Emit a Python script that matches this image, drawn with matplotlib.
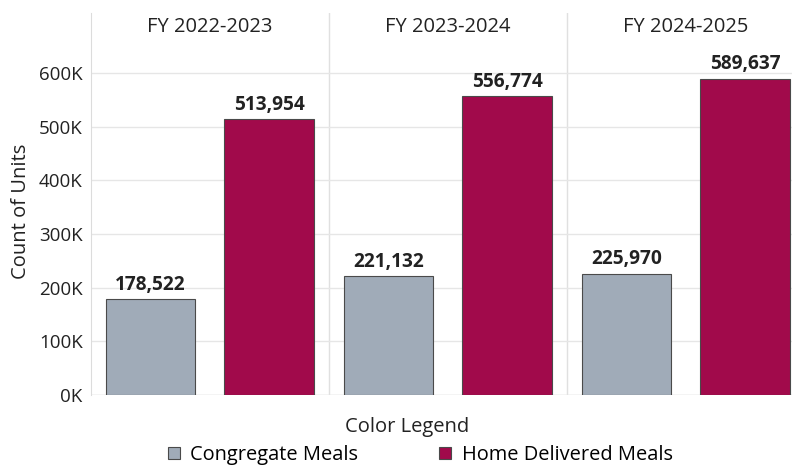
import matplotlib
matplotlib.use("Agg")
import matplotlib.pyplot as plt
from matplotlib.ticker import FuncFormatter
from matplotlib.patches import Patch

plt.rcParams['font.family'] = ['Open Sans', 'DejaVu Sans']

periods = ["FY 2022-2023", "FY 2023-2024", "FY 2024-2025"]
series = ["Congregate Meals", "Home Delivered Meals"]
congregate = [178522, 221132, 225970]
home_delivered = [513954, 556774, 589637]
colors = ["#A0ABB8", "#A10A4B"]
yticks = [0, 100000, 200000, 300000, 400000, 500000, 600000]

fig = plt.figure(figsize=(7.92, 4.67), dpi=100)
ax = fig.add_axes([91/792, 1 - 395/467, 714/792, 382/467])

offsets = [0.25, 0.748]
width = 0.375
for s, (vals, col, off) in enumerate(zip([congregate, home_delivered], colors, offsets)):
    xs = [i + off for i in range(len(periods))]
    ax.bar(xs, vals, width=width, color=col, edgecolor="#4a4a4a",
           linewidth=0.8, zorder=3, label=series[s])
    for x, v in zip(xs, vals):
        ax.text(x, v + 8000, f"{v:,}", ha="center", va="bottom",
                fontsize=13.8, fontweight="bold", color="#222222", zorder=4)

ax.set_xlim(0, 3)
ax.set_ylim(0, 712000)
ax.set_yticks(yticks)
ax.yaxis.set_major_formatter(FuncFormatter(lambda v, p: f"{int(v/1000)}K"))
ax.tick_params(axis="y", length=0, labelsize=13.5, colors="#222222", pad=6)
ax.set_xticks([])
ax.grid(axis="y", color="#e6e6e6", linewidth=1, zorder=0)
for sp in ["top", "right", "bottom"]:
    ax.spines[sp].set_visible(False)
ax.spines["left"].set_color("#dcdcdc")
ax.axhline(0, color="#dcdcdc", linewidth=1, zorder=1)
for sep in [1, 2]:
    ax.axvline(sep, color="#e0e0e0", linewidth=1, zorder=1)

for i, p in enumerate(periods):
    ax.text(i + 0.5, 1 - 14/382, p, transform=ax.get_xaxis_transform(),
            ha="center", va="center", fontsize=14.5, color="#222222")

ax.set_ylabel("Count of Units", fontsize=14.5, color="#222222")
ax.yaxis.set_label_coords(-60/714, 0.48)

fig.text(407/792, 1 - 427/467, "Color Legend", ha="center", va="center",
         fontsize=14.5, color="#222222")
handles = [Patch(facecolor=c, edgecolor="#4a4a4a", linewidth=0.8) for c in colors]
fig.legend(handles, series, loc="center", bbox_to_anchor=(420/792, 1 - 455/467),
           ncol=2, frameon=False, fontsize=14.4, handlelength=0.6, handleheight=0.6,
           columnspacing=4.0, handletextpad=0.55)

fig.savefig("out.png", dpi=100)
